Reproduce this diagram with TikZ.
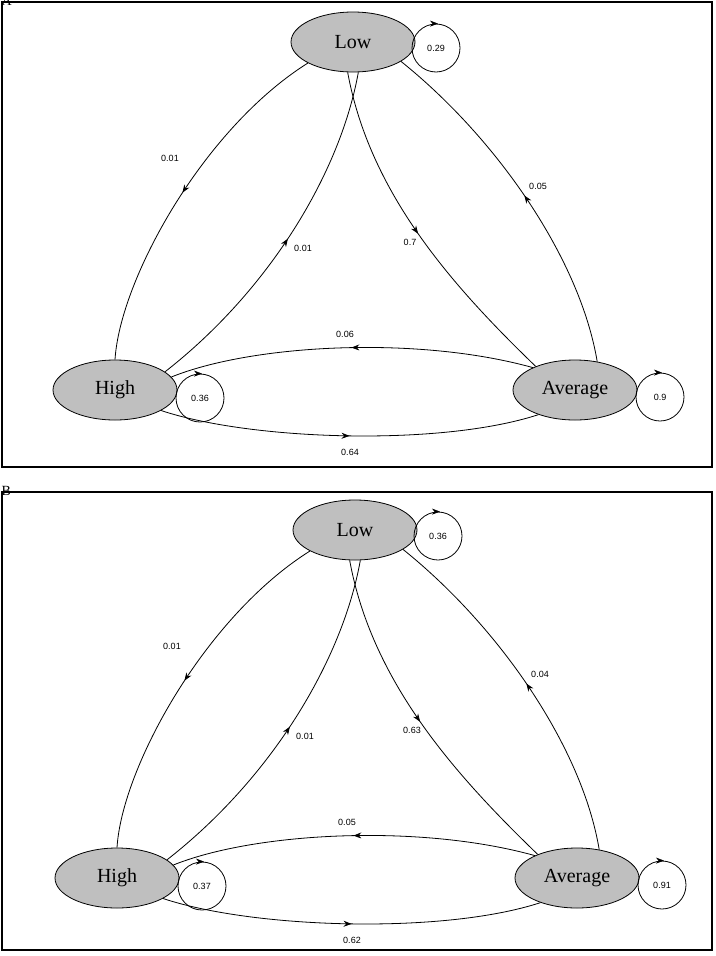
\documentclass[tikz,border=0pt]{standalone}
\usepackage{fontspec}
\setmainfont{Liberation Serif}
\newfontfamily\lab{Liberation Sans}
\usetikzlibrary{arrows.meta,decorations.markings,shapes.geometric}
\tikzset{
 st/.style={ellipse,draw,thick,fill=gray!50,minimum width=124pt,minimum height=60pt,font=\fontsize{20}{22}\selectfont},
 lp/.style={circle,draw,thick,minimum size=48pt,inner sep=0pt,font=\lab\fontsize{9}{10}\selectfont},
 el/.style={font=\lab\fontsize{9}{10}\selectfont},
 tr/.style={thick,postaction={decorate},decoration={markings,mark=at position 0.5 with {\arrow{Stealth[length=8pt,width=6pt]}}}},
 frame/.style={draw,line width=1.5pt},
 pl/.style={font=\fontsize{14}{16}\selectfont}
}
\newcommand{\mypanel}[9]{%
 \node[st] (L#1) at (353,42) {Low};
 \node[st] (H#1) at (115,390) {High};
 \node[st] (A#1) at (575,390) {Average};
 \node[lp] (lL#1) at (436,48) {#2};
 \node[lp] (lH#1) at (200,398) {#3};
 \node[lp] (lA#1) at (660,397) {#4};
 \foreach \n in {lL#1,lH#1,lA#1}{\draw[-{Stealth[length=8pt,width=6pt]}] ([xshift=-2pt]\n.north) -- ([xshift=2pt]\n.north);}
 \draw[tr] (L#1.205) .. controls +(-105,66) and +(5,-80) .. (H#1.90);
 \draw[tr] (H#1.20) .. controls +(105,-82) and +(-18,100) .. (L#1.280);
 \draw[tr] (L#1.260) .. controls +(22,120) and +(-85,-82) .. (A#1.149);
 \draw[tr] (A#1.52) .. controls +(-17,-102) and +(97,78) .. (L#1.338);
 \draw[tr] (A#1.152) .. controls +(-115,-32) and +(82,-33) .. (H#1.13);
 \draw[tr] (H#1.336) .. controls +(90,30) and +(-98,32) .. (A#1.214);
 \node[el] (t1#1) at (170,158) {#5};
 \node[el] (t2#1) at (303,248) {#6};
 \node[el] (t3#1) at (410,242) {#7};
 \node[el] (t4#1) at (538,186) {#8};
 \node[el] (t5#1) at (345,334) {#9};
}
\begin{document}
\begin{tikzpicture}[x=1pt,y=-1pt]
\useasboundingbox (0,0) rectangle (715,956);
\draw[frame] (2,2) rectangle (712,467);
\node[pl] (pa) at (-2,-7) [anchor=north west] {A};
\mypanel{a}{0.29}{0.36}{0.9}{0.01}{0.01}{0.7}{0.05}{0.06}
\node[el] (t6a) at (350,452) {0.64};
\draw[frame] (2,492) rectangle (712,950);
\node[pl] (pb) at (-2,483) [anchor=north west] {B};
\begin{scope}[shift={(2,488)}]
\mypanel{b}{0.36}{0.37}{0.91}{0.01}{0.01}{0.63}{0.04}{0.05}
\node[el] (t6b) at (350,452) {0.62};
\end{scope}
\end{tikzpicture}
\end{document}
